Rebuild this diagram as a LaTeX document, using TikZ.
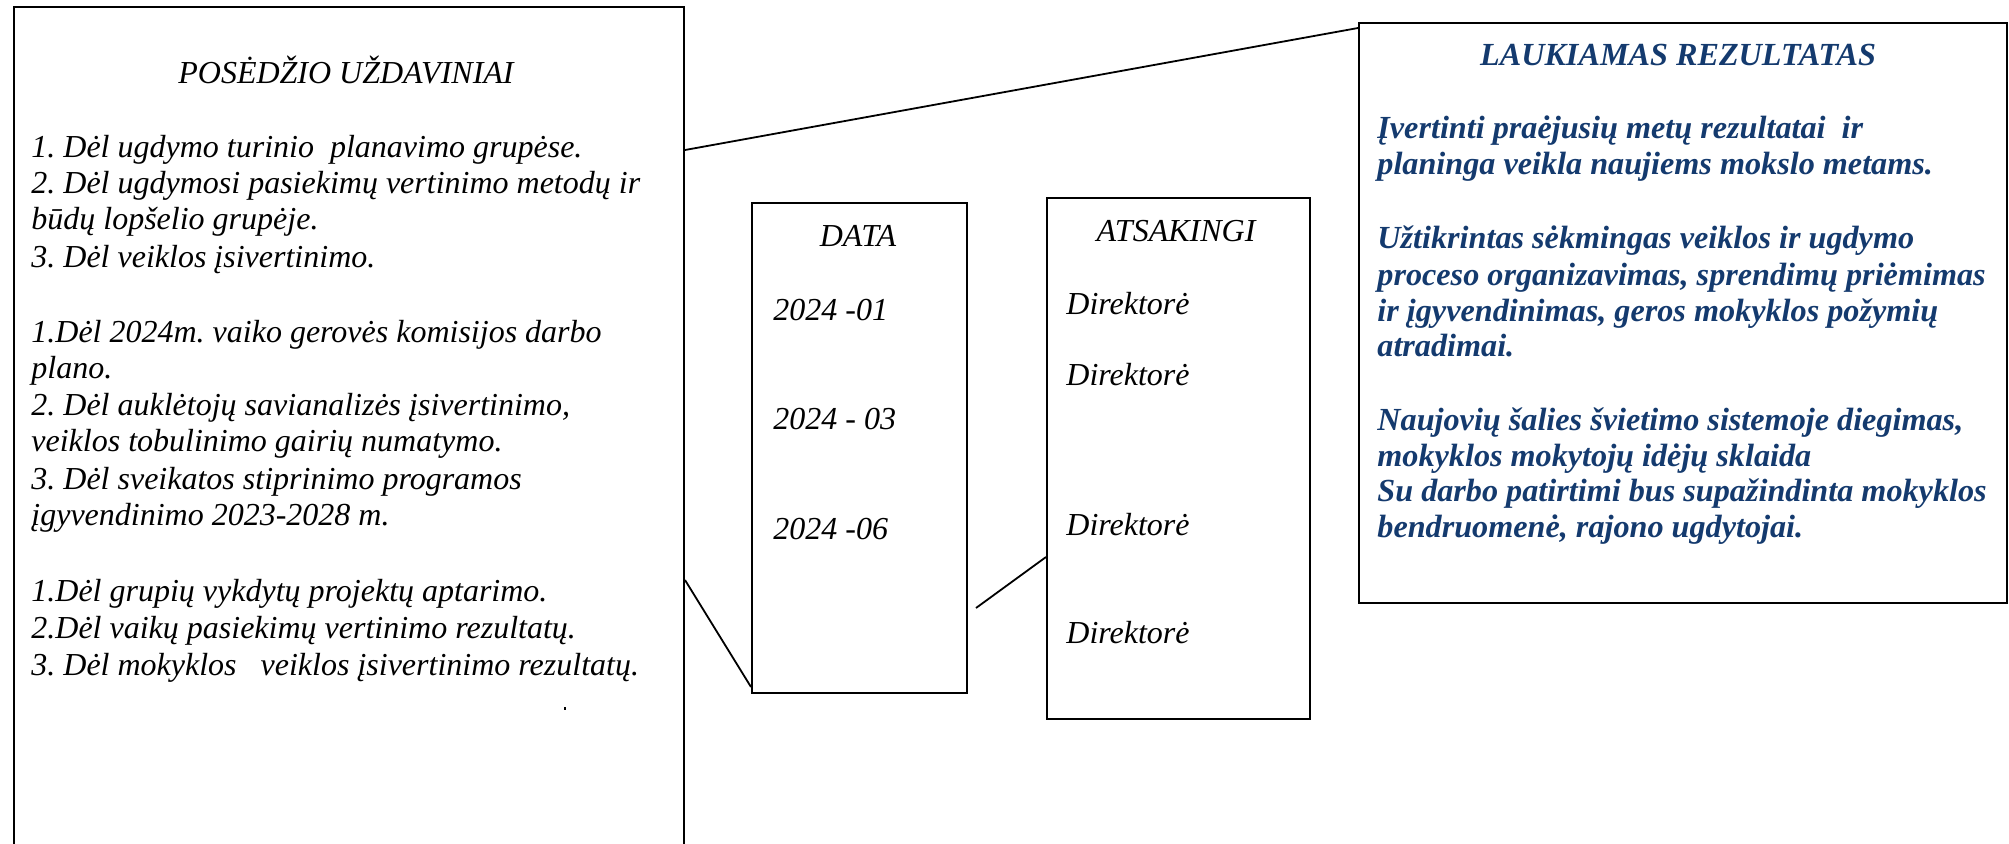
\documentclass[tikz,border=0pt]{standalone}
\usepackage{fontspec}
\setmainfont{Liberation Serif}
\usetikzlibrary{calc}
\definecolor{bluetxt}{HTML}{143A6E}
\frenchspacing
\tikzset{
  boxframe/.style={draw=black, line width=1pt, inner sep=0pt, anchor=north west},
  ln/.style={anchor=base west, inner sep=0pt, font=\fontsize{16}{18}\selectfont\itshape},
  ttl/.style={anchor=base, inner sep=0pt, font=\fontsize{16}{18}\selectfont\itshape},
  bln/.style={anchor=base west, inner sep=0pt, text=bluetxt, font=\fontsize{16.1}{18}\selectfont\bfseries\itshape},
  bttl/.style={anchor=base, inner sep=0pt, text=bluetxt, font=\fontsize{16.1}{18}\selectfont\bfseries\itshape},
  conn/.style={draw=black, line width=0.9pt}
}
\begin{document}
\begin{tikzpicture}[x=0.5pt, y=-0.5pt]
\useasboundingbox (0,0) rectangle (2009,843);
% boxes
\node[boxframe, minimum width=335pt, minimum height=430pt] (left) at (13,6) {};
\node[boxframe, minimum width=107.5pt, minimum height=245pt] (data) at (751,202) {};
\node[boxframe, minimum width=131.5pt, minimum height=260.5pt] (ats) at (1046,197) {};
\node[boxframe, minimum width=324pt, minimum height=290pt] (lauk) at (1358,22) {};
% connectors
\draw[conn] ($(left.north east)+(0,144)$) -- ($(lauk.north west)+(0,6)$);
\draw[conn] ($(left.north east)+(0,574)$) -- ($(data.south west)+(0,-7)$);
\draw[conn] ($(ats.north west)+(0,360)$) -- ($(data.south east)+(8,-86)$);
% left box text
\node[ttl] (t0) at (346,83) {POSĖDŽIO UŽDAVINIAI};
\node[ln] (l1) at (31,157) {1. Dėl ugdymo turinio\ \ planavimo grupėse.};
\node[ln] (l2) at (31,193) {2. Dėl ugdymosi pasiekimų vertinimo metodų ir};
\node[ln] (l3) at (31,229) {būdų lopšelio grupėje.};
\node[ln] (l4) at (31,267) {3. Dėl veiklos įsivertinimo.};
\node[ln] (l5) at (31,342) {1.Dėl 2024m. vaiko gerovės komisijos darbo};
\node[ln] (l6) at (31,378) {plano.};
\node[ln] (l7) at (31,415) {2. Dėl auklėtojų savianalizės įsivertinimo,};
\node[ln] (l8) at (31,451) {veiklos tobulinimo gairių numatymo.};
\node[ln] (l9) at (31,489) {3. Dėl sveikatos stiprinimo programos};
\node[ln] (l10) at (31,525) {įgyvendinimo 2023-2028 m.};
\node[ln] (l11) at (31,601) {1.Dėl grupių vykdytų projektų aptarimo.};
\node[ln] (l12) at (31,638) {2.Dėl vaikų pasiekimų vertinimo rezultatų.};
\node[ln] (l13) at (31,675) {3. Dėl mokyklos\ \ \ veiklos įsivertinimo rezultatų.};
\fill (564,707) rectangle (566,710);
% DATA box
\node[ttl] (d0) at (858,246) {DATA};
\node[ln] (d1) at (773,320) {2024 -01};
\node[ln] (d2) at (773,429) {2024 - 03};
\node[ln] (d3) at (773,539) {2024 -06};
% ATSAKINGI box
\node[ttl] (a0) at (1176,241) {ATSAKINGI};
\node[ln] (a1) at (1066,314) {Direktorė};
\node[ln] (a2) at (1066,385) {Direktorė};
\node[ln] (a3) at (1066,535) {Direktorė};
\node[ln] (a4) at (1066,643) {Direktorė};
% LAUKIAMAS box
\node[bttl] (r0) at (1678,65) {LAUKIAMAS REZULTATAS};
\node[bln] (r1) at (1377,138) {Įvertinti praėjusių metų rezultatai\ \ ir};
\node[bln] (r2) at (1377,174) {planinga veikla naujiems mokslo metams.};
\node[bln] (r3) at (1377,248) {Užtikrintas sėkmingas veiklos ir ugdymo};
\node[bln] (r4) at (1377,285) {proceso organizavimas, sprendimų priėmimas};
\node[bln] (r5) at (1377,321) {ir įgyvendinimas, geros mokyklos požymių};
\node[bln] (r6) at (1377,356) {atradimai.};
\node[bln] (r7) at (1377,430) {Naujovių šalies švietimo sistemoje diegimas,};
\node[bln] (r8) at (1377,466) {mokyklos mokytojų idėjų sklaida};
\node[bln] (r9) at (1377,501) {Su darbo patirtimi bus supažindinta mokyklos};
\node[bln] (r10) at (1377,537) {bendruomenė, rajono ugdytojai.};
\end{tikzpicture}
\end{document}
